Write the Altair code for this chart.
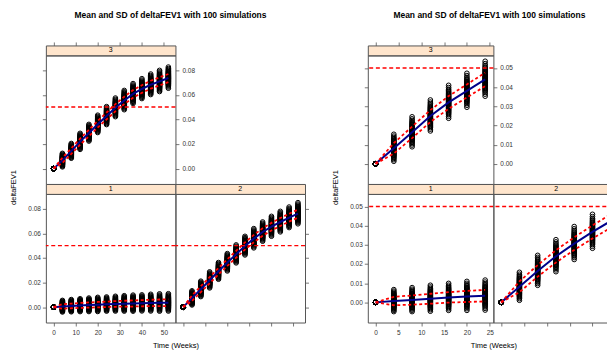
import altair as alt
import pandas as pd

TITLE = "Mean and SD of deltaFEV1 with 100 simulations"
FONT = "Liberation Sans"
GREY = "#555555"
PEACH = "#FFE5CC"
BLUE = "#00008B"
RED = "#FF0000"

# ---------------- left figure (52 weeks) ----------------
weeks_a = [0, 4, 8, 12, 16, 20, 24, 28, 32, 36, 40, 44, 48, 52]
mean_1a = [0, 0.0006, 0.0010, 0.0014, 0.0017, 0.0020, 0.0023, 0.0026, 0.0028, 0.0030, 0.0032, 0.0034, 0.0035, 0.0036]
sd_1a = [0, 0.0018, 0.0019, 0.0020, 0.0021, 0.0022, 0.0022, 0.0023, 0.0024, 0.0025, 0.0025, 0.0026, 0.0027, 0.0027]
mean_2a = [0, 0.0073, 0.0146, 0.0219, 0.0292, 0.0362, 0.0430, 0.0497, 0.0557, 0.0611, 0.0654, 0.0692, 0.0727, 0.0760]
sd_2a = [0, 0.0022, 0.0024, 0.0025, 0.0026, 0.0027, 0.0028, 0.0029, 0.0030, 0.0030, 0.0031, 0.0032, 0.0032, 0.0033]
mean_3a = [0, 0.0067, 0.0142, 0.0219, 0.0289, 0.0361, 0.0428, 0.0495, 0.0554, 0.0607, 0.0647, 0.0682, 0.0709, 0.0736]
sd_3a = [0, 0.0021, 0.0023, 0.0025, 0.0026, 0.0027, 0.0028, 0.0029, 0.0030, 0.0031, 0.0031, 0.0032, 0.0033, 0.0033]
xdom_a = [-3.5, 55.2]
ydom_a = [-0.0125, 0.092]
xticks_a = [0, 10, 20, 30, 40, 50]
yticks_a = [0, 0.02, 0.04, 0.06, 0.08]

# ---------------- right figure (24 weeks) ----------------
weeks_b = [0, 4, 8, 12, 16, 20, 24]
mean_1b = [0, 0.0007, 0.0012, 0.0019, 0.0026, 0.0031, 0.0035]
sd_1b = [0, 0.0022, 0.0024, 0.0026, 0.0027, 0.0029, 0.0030]
mean_2b = [0, 0.0081, 0.0164, 0.0240, 0.0306, 0.0367, 0.0424]
sd_2b = [0, 0.0028, 0.0030, 0.0032, 0.0033, 0.0034, 0.0035]
mean_3b = [0, 0.0081, 0.0164, 0.0249, 0.0320, 0.0380, 0.0440]
sd_3b = [0, 0.0027, 0.0030, 0.0031, 0.0033, 0.0034, 0.0035]
xdom_b = [-1.7, 25.8]
xdom_b_cut = [-1.7, 24.49]
ydom_b = [-0.0105, 0.0565]
xticks_b = [0, 5, 10, 15, 20, 25]
xticks_b_cut = [0, 5, 10, 15, 20]
yticks_b = [0, 0.01, 0.02, 0.03, 0.04, 0.05]

# standardized spread of the 100 simulated values around each mean
offsets = [-2.5, -2.2, -1.95, -1.75, -1.6, -1.45, -1.32, -1.2, -1.08, -0.96, -0.85, -0.74,
           -0.63, -0.52, -0.42, -0.32, -0.22, -0.12, -0.03, 0.06, 0.15, 0.25, 0.35, 0.45,
           0.55, 0.66, 0.77, 0.88, 1.0, 1.12, 1.25, 1.38, 1.52, 1.68, 1.86, 2.08, 2.35, 2.7]

threshold = [0.05]

SH = 10   # strip height
PH = 129  # panel height


def axis(orient, values, labels, fmt=None, **kw):
    d = dict(orient=orient, values=values, labels=labels, ticks=True, tickSize=3.5,
             tickColor=GREY, tickWidth=0.8, domain=False, grid=False, title=None,
             labelFont=FONT, labelFontSize=6.5, labelColor="#333333", labelPadding=2)
    if fmt:
        d["format"] = fmt
    d.update(kw)
    return alt.Axis(**d)


def panel(weeks, mean, sd, xd, yd, w, xv, yv, yfmt, left=None, right=None, bottom=None,
          xtitle=None, ytitle=None):
    rows = []
    for t, m, s in zip(weeks, mean, sd):
        for o in offsets:
            rows.append({"t": t, "v": m + s * o})
    pts_df = pd.DataFrame(rows)
    sum_df = pd.DataFrame({"t": weeks, "m": mean,
                           "lo": [m - s for m, s in zip(mean, sd)],
                           "hi": [m + s for m, s in zip(mean, sd)]})
    xs = alt.Scale(domain=xd, nice=False, zero=False)
    ys = alt.Scale(domain=yd, nice=False, zero=False)

    if bottom is None:
        xax = None
    else:
        kw = {}
        if xtitle:
            kw = dict(title=xtitle[0], titleX=xtitle[1], titleY=23, titleAlign="center",
                      titleBaseline="middle", titleFont=FONT, titleFontSize=7.5,
                      titleFontWeight="normal", titleColor="black", titleAngle=0)
        xax = axis("bottom", xv, bottom == "labels", labelPadding=3.5, **kw)
    if left is None:
        lax = None
    else:
        kw = {}
        if ytitle:
            kw = dict(title=ytitle, titleX=-32, titleY=-7, titleAlign="center",
                      titleBaseline="middle", titleAngle=270, titleFont=FONT,
                      titleFontSize=7.5, titleFontWeight="normal", titleColor="black")
        lax = axis("left", yv, left == "labels", yfmt, **kw)
    rax = None if right is None else axis("right", yv, right == "labels", yfmt, labelPadding=3)

    pts = alt.Chart(pts_df).mark_point(shape="circle", filled=False, color="black", size=22,
                                       strokeWidth=1.0, opacity=1, clip=True).encode(
        x=alt.X("t:Q", scale=xs, axis=xax),
        y=alt.Y("v:Q", scale=ys, axis=lax))
    base = alt.Chart(sum_df)
    mline = base.mark_line(color=BLUE, strokeWidth=2, clip=True).encode(
        x=alt.X("t:Q", scale=xs, axis=None),
        y=alt.Y("m:Q", scale=ys, axis=rax))
    lo = base.mark_line(color=RED, strokeWidth=1.8, strokeDash=[3, 2.5], clip=True).encode(
        x=alt.X("t:Q", scale=xs, axis=None), y=alt.Y("lo:Q", scale=ys, axis=None))
    hi = base.mark_line(color=RED, strokeWidth=1.8, strokeDash=[3, 2.5], clip=True).encode(
        x=alt.X("t:Q", scale=xs, axis=None), y=alt.Y("hi:Q", scale=ys, axis=None))
    hline = alt.Chart(pd.DataFrame({"h": threshold})).mark_rule(
        color=RED, strokeWidth=1.5, strokeDash=[4, 2.7]).encode(
        y=alt.Y("h:Q", scale=ys, axis=None))
    return alt.layer(pts, mline, lo, hi, hline).resolve_axis(
        x="independent", y="independent").properties(width=w, height=PH)


def strip(label, xd, center, w, xv=None, title_dx=None):
    df = pd.DataFrame({"c": [center], "lab": [label]})
    ax = None
    if xv is not None:
        ax = axis("top", xv, False)
    props = dict(width=w, height=SH, view=alt.ViewBackground(fill=PEACH, stroke=GREY, strokeWidth=1))
    if title_dx is not None:
        props["title"] = alt.TitleParams(TITLE, anchor="start", align="center", dx=title_dx,
                                         frame="group", font=FONT, fontSize=8.5,
                                         fontWeight="bold", color="black", offset=22)
    return alt.Chart(df).mark_text(font=FONT, fontSize=7, color="black").encode(
        x=alt.X("c:Q", scale=alt.Scale(domain=xd, nice=False, zero=False), axis=ax),
        y=alt.value(SH / 2),
        text="lab:N").properties(**props)


def empty(w, h):
    return alt.Chart(pd.DataFrame({"a": [0]})).mark_point(opacity=0).encode(
        x=alt.value(0), y=alt.value(0)).properties(
        width=w, height=h, view=alt.ViewBackground(strokeOpacity=0))


WA = 130
WB = 126
WB2 = 120
GAP = 63
ca = (xdom_a[0] + xdom_a[1]) / 2
cb = (xdom_b[0] + xdom_b[1]) / 2

cells = [
    # row 1: strips of panel 3
    strip("3", xdom_a, ca, WA, xticks_a, 125), empty(WA, SH), empty(GAP, SH),
    strip("3", xdom_b, cb, WB, xticks_b, 122), empty(WB2, SH),
    # row 2: panel 3
    panel(weeks_a, mean_3a, sd_3a, xdom_a, ydom_a, WA, xticks_a, yticks_a, ".2f",
          left="ticks", right="labels"),
    empty(WA, PH), empty(GAP, PH),
    panel(weeks_b, mean_3b, sd_3b, xdom_b, ydom_b, WB, xticks_b, yticks_b, ".2f",
          left="ticks", right="labels"),
    empty(WB2, PH),
    # row 3: strips of panels 1 and 2
    strip("1", xdom_a, ca, WA), strip("2", xdom_a, ca, WA), empty(GAP, SH),
    strip("1", xdom_b, cb, WB), strip("2", xdom_b_cut, cb, WB2),
    # row 4: panels 1 and 2
    panel(weeks_a, mean_1a, sd_1a, xdom_a, ydom_a, WA, xticks_a, yticks_a, ".2f",
          left="labels", bottom="labels", xtitle=("Time (Weeks)", 130), ytitle="deltaFEV1"),
    panel(weeks_a, mean_2a, sd_2a, xdom_a, ydom_a, WA, xticks_a, yticks_a, ".2f",
          right="ticks", bottom="ticks"),
    empty(GAP, PH),
    panel(weeks_b, mean_1b, sd_1b, xdom_b, ydom_b, WB, xticks_b, yticks_b, ".2f",
          left="labels", bottom="labels", xtitle=("Time (Weeks)", 126), ytitle="deltaFEV1"),
    panel(weeks_b, mean_2b, sd_2b, xdom_b_cut, ydom_b, WB2, xticks_b_cut, yticks_b, ".2f",
          bottom="ticks"),
]

chart = alt.concat(*cells, columns=5, spacing=0, bounds="flush", align="each").properties(
    padding={"left": 1, "top": 2, "right": -8, "bottom": 0},
    background="white",
).configure_view(stroke=GREY, strokeWidth=1)

chart.save("out.html", embed_options={"renderer": "svg", "actions": False})
